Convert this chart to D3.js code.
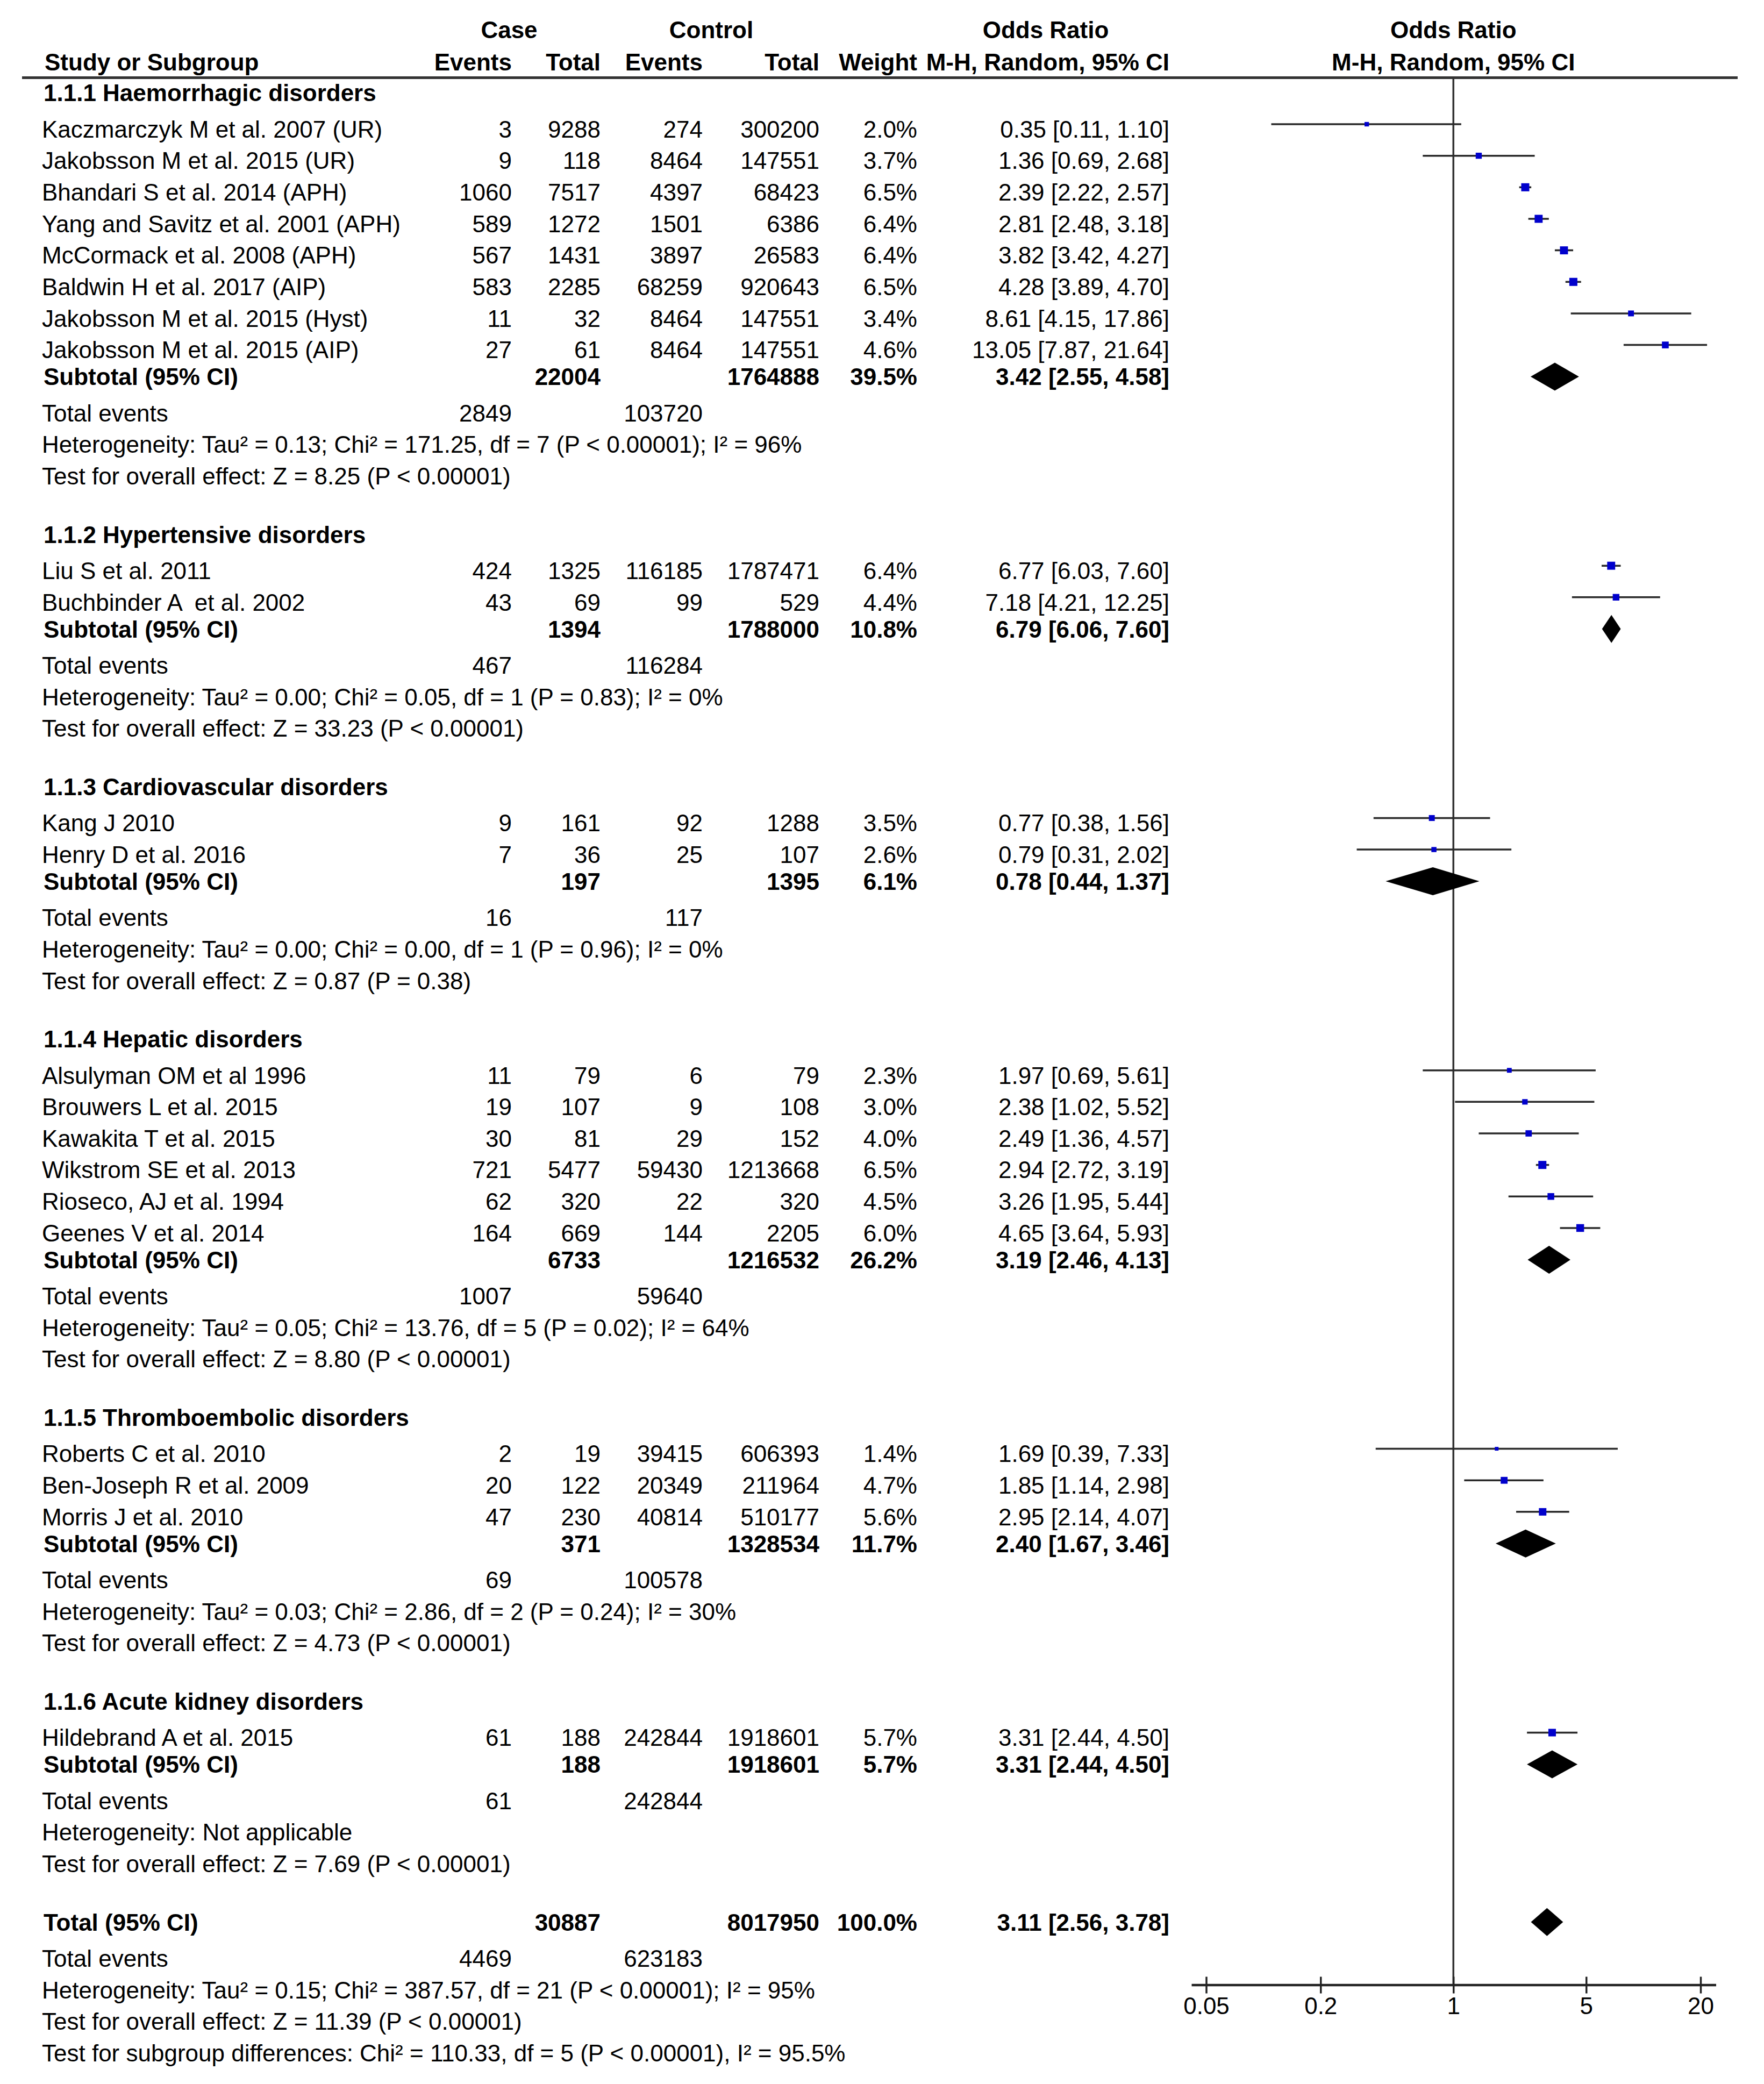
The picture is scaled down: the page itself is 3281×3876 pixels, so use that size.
<!DOCTYPE html>
<html>
<head>
<meta charset="utf-8">
<script src="https://cdn.jsdelivr.net/npm/d3@7"></script>
<style>
  html, body { margin: 0; padding: 0; background: #fff; }
  svg text { font-family: "Liberation Sans", Arial, sans-serif; white-space: pre; }
</style>
</head>
<body>
<svg id="chart"></svg>
<script>
// ---- data ----
const groupNames = [
  "1.1.1 Haemorrhagic disorders",
  "1.1.2 Hypertensive disorders",
  "1.1.3 Cardiovascular disorders",
  "1.1.4 Hepatic disorders",
  "1.1.5 Thromboembolic disorders",
  "1.1.6 Acute kidney disorders"
];

const studyNames = [
  "Kaczmarczyk M et al. 2007 (UR)",
  "Jakobsson M et al. 2015 (UR)",
  "Bhandari S et al. 2014 (APH)",
  "Yang and Savitz et al. 2001 (APH)",
  "McCormack et al. 2008 (APH)",
  "Baldwin H et al. 2017 (AIP)",
  "Jakobsson M et al. 2015 (Hyst)",
  "Jakobsson M et al. 2015 (AIP)",
  "Liu S et al. 2011",
  "Buchbinder A  et al. 2002",
  "Kang J 2010",
  "Henry D et al. 2016",
  "Alsulyman OM et al 1996",
  "Brouwers L et al. 2015",
  "Kawakita T et al. 2015",
  "Wikstrom SE et al. 2013",
  "Rioseco, AJ et al. 1994",
  "Geenes V et al. 2014",
  "Roberts C et al. 2010",
  "Ben-Joseph R et al. 2009",
  "Morris J et al. 2010",
  "Hildebrand A et al. 2015"
];
const studyGroup = [0, 0, 0, 0, 0, 0, 0, 0, 1, 1, 2, 2, 3, 3, 3, 3, 3, 3, 4, 4, 4, 5];
const caseEvents = [3, 9, 1060, 589, 567, 583, 11, 27, 424, 43, 9, 7, 11, 19, 30, 721, 62, 164, 2, 20, 47, 61];
const caseTotals = [9288, 118, 7517, 1272, 1431, 2285, 32, 61, 1325, 69, 161, 36, 79, 107, 81, 5477, 320, 669, 19, 122, 230, 188];
const ctrlEvents = [274, 8464, 4397, 1501, 3897, 68259, 8464, 8464, 116185, 99, 92, 25, 6, 9, 29, 59430, 22, 144, 39415, 20349, 40814, 242844];
const ctrlTotals = [300200, 147551, 68423, 6386, 26583, 920643, 147551, 147551, 1787471, 529, 1288, 107, 79, 108, 152, 1213668, 320, 2205, 606393, 211964, 510177, 1918601];
const weights = [2.0, 3.7, 6.5, 6.4, 6.4, 6.5, 3.4, 4.6, 6.4, 4.4, 3.5, 2.6, 2.3, 3.0, 4.0, 6.5, 4.5, 6.0, 1.4, 4.7, 5.6, 5.7];
const oddsRatio = [0.35, 1.36, 2.39, 2.81, 3.82, 4.28, 8.61, 13.05, 6.77, 7.18, 0.77, 0.79, 1.97, 2.38, 2.49, 2.94, 3.26, 4.65, 1.69, 1.85, 2.95, 3.31];
const ciLow = [0.11, 0.69, 2.22, 2.48, 3.42, 3.89, 4.15, 7.87, 6.03, 4.21, 0.38, 0.31, 0.69, 1.02, 1.36, 2.72, 1.95, 3.64, 0.39, 1.14, 2.14, 2.44];
const ciHigh = [1.10, 2.68, 2.57, 3.18, 4.27, 4.70, 17.86, 21.64, 7.60, 12.25, 1.56, 2.02, 5.61, 5.52, 4.57, 3.19, 5.44, 5.93, 7.33, 2.98, 4.07, 4.50];

// subgroup summaries
const subCaseTotals = [22004, 1394, 197, 6733, 371, 188];
const subCtrlTotals = [1764888, 1788000, 1395, 1216532, 1328534, 1918601];
const subWeights = [39.5, 10.8, 6.1, 26.2, 11.7, 5.7];
const subOdds = [3.42, 6.79, 0.78, 3.19, 2.40, 3.31];
const subLow = [2.55, 6.06, 0.44, 2.46, 1.67, 2.44];
const subHigh = [4.58, 7.60, 1.37, 4.13, 3.46, 4.50];
const subCaseEvents = [2849, 467, 16, 1007, 69, 61];
const subCtrlEvents = [103720, 116284, 117, 59640, 100578, 242844];
const subHeterogeneity = [
  "Heterogeneity: Tau² = 0.13; Chi² = 171.25, df = 7 (P < 0.00001); I² = 96%",
  "Heterogeneity: Tau² = 0.00; Chi² = 0.05, df = 1 (P = 0.83); I² = 0%",
  "Heterogeneity: Tau² = 0.00; Chi² = 0.00, df = 1 (P = 0.96); I² = 0%",
  "Heterogeneity: Tau² = 0.05; Chi² = 13.76, df = 5 (P = 0.02); I² = 64%",
  "Heterogeneity: Tau² = 0.03; Chi² = 2.86, df = 2 (P = 0.24); I² = 30%",
  "Heterogeneity: Not applicable"
];
const subOverallEffect = [
  "Test for overall effect: Z = 8.25 (P < 0.00001)",
  "Test for overall effect: Z = 33.23 (P < 0.00001)",
  "Test for overall effect: Z = 0.87 (P = 0.38)",
  "Test for overall effect: Z = 8.80 (P < 0.00001)",
  "Test for overall effect: Z = 4.73 (P < 0.00001)",
  "Test for overall effect: Z = 7.69 (P < 0.00001)"
];

// overall
const totalCounts = [30887, 8017950];       // case total, control total
const totalEvents = [4469, 623183];         // case events, control events
const totalWeight = 100.0;
const totalEstimate = [3.11, 2.56, 3.78];   // OR, low, high
const totalNotes = [
  "Heterogeneity: Tau² = 0.15; Chi² = 387.57, df = 21 (P < 0.00001); I² = 95%",
  "Test for overall effect: Z = 11.39 (P < 0.00001)",
  "Test for subgroup differences: Chi² = 110.33, df = 5 (P < 0.00001), I² = 95.5%"
];

const axisTicks = [0.05, 0.2, 1, 5, 20];

// ---- layout ----
const width = 3281, height = 3876;
const fontSize = 44;
const boldShift = -8.7;     // bold / summary rows sit a little higher
const markShift = -9;       // plot marks sit above the text centre

const col = {
  name: 78, nameBold: 81, head: 83,
  caseEv: 952, caseTot: 1117, ctrlEv: 1307, ctrlTot: 1524,
  weight: 1706, or: 2175
};

const svg = d3.select("#chart")
  .attr("width", width)
  .attr("height", height)
  .attr("xmlns", "http://www.w3.org/2000/svg");

svg.append("rect").attr("width", width).attr("height", height).attr("fill", "#fff");

const y = d3.scaleLinear().domain([0, 61]).range([240, 3818]);
const x = d3.scaleLog().domain([0.05, 20]).range([2243.5, 3163]);
const sq = d3.scaleSqrt().domain([0, 6.5]).range([0, 15]);

const f2 = d3.format(".2f");
const orText = (o, l, h) => `${f2(o)} [${f2(l)}, ${f2(h)}]`;
const wText = (w) => `${w.toFixed(1)}%`;

const txt = (xx, yc, s, anchor, bold) => {
  svg.append("text")
    .attr("x", xx)
    .attr("y", yc + 0.36 * fontSize)
    .attr("xml:space", "preserve")
    .attr("text-anchor", anchor || "start")
    .attr("font-size", fontSize)
    .attr("font-weight", bold ? "bold" : "normal")
    .attr("fill", "#000")
    .text(s);
};

// build row list
const rows = [];
let r = -1;
groupNames.forEach((g, gi) => {
  rows.push({ type: "group", idx: r++, g: gi });
  studyNames.forEach((s, si) => {
    if (studyGroup[si] === gi) rows.push({ type: "study", idx: r++, i: si });
  });
  rows.push({ type: "subtotal", idx: r++, g: gi });
  rows.push({ type: "events", idx: r++, ce: subCaseEvents[gi], cc: subCtrlEvents[gi] });
  rows.push({ type: "note", idx: r++, label: subHeterogeneity[gi] });
  rows.push({ type: "note", idx: r++, label: subOverallEffect[gi] });
  r++; // blank line
});
rows.push({ type: "total", idx: r++ });
rows.push({ type: "events", idx: r++, ce: totalEvents[0], cc: totalEvents[1] });
totalNotes.forEach((n) => rows.push({ type: "note", idx: r++, label: n }));

// ---- header ----
const h1 = 55, h2 = 115;
txt(947, h1, "Case", "middle", true);
txt(1323, h1, "Control", "middle", true);
txt(1945, h1, "Odds Ratio", "middle", true);
txt(x(1), h1, "Odds Ratio", "middle", true);
txt(col.head, h2, "Study or Subgroup", "start", true);
txt(col.caseEv, h2, "Events", "end", true);
txt(col.caseTot, h2, "Total", "end", true);
txt(col.ctrlEv, h2, "Events", "end", true);
txt(col.ctrlTot, h2, "Total", "end", true);
txt(col.weight, h2, "Weight", "end", true);
txt(col.or, h2, "M-H, Random, 95% CI", "end", true);
txt(x(1), h2, "M-H, Random, 95% CI", "middle", true);

svg.append("line")
  .attr("x1", 41).attr("x2", 3232)
  .attr("y1", 144.5).attr("y2", 144.5)
  .attr("stroke", "#333").attr("stroke-width", 5);

// ---- plot frame: line of no effect and axis ----
const axisY = 3692;
svg.append("line")
  .attr("x1", x(1)).attr("x2", x(1))
  .attr("y1", 144.5).attr("y2", axisY)
  .attr("stroke", "#333").attr("stroke-width", 3.5);

const axisG = svg.append("g")
  .attr("transform", `translate(0,${axisY})`)
  .call(d3.axisBottom(x).tickValues(axisTicks).tickSize(0).tickPadding(0)
    .tickFormat((d) => String(d)));
axisG.select(".domain").remove();
axisG.selectAll(".tick line")
  .attr("y1", -15.5).attr("y2", 15.5)
  .attr("stroke", "#222").attr("stroke-width", 3.5);
axisG.selectAll(".tick text")
  .attr("y", 38 + 0.36 * fontSize)
  .attr("dy", null)
  .attr("font-size", fontSize)
  .attr("font-family", '"Liberation Sans", Arial, sans-serif')
  .attr("fill", "#000");
axisG.append("line")
  .attr("x1", x(axisTicks[0]) - 27).attr("x2", x(axisTicks[axisTicks.length - 1]) + 29)
  .attr("y1", 0).attr("y2", 0)
  .attr("stroke", "#222").attr("stroke-width", 4.5);

// ---- rows ----
const diamond = (o, l, h, yc) => {
  const hh = 26;
  svg.append("path")
    .attr("d", `M${x(l)},${yc}L${x(o)},${yc - hh}L${x(h)},${yc}L${x(o)},${yc + hh}Z`)
    .attr("fill", "#000");
};

rows.forEach((row) => {
  const yc = y(row.idx);
  if (row.type === "group") {
    txt(col.nameBold, yc + boldShift, groupNames[row.g], "start", true);
  } else if (row.type === "study") {
    const i = row.i;
    txt(col.name, yc, studyNames[i]);
    txt(col.caseEv, yc, String(caseEvents[i]), "end");
    txt(col.caseTot, yc, String(caseTotals[i]), "end");
    txt(col.ctrlEv, yc, String(ctrlEvents[i]), "end");
    txt(col.ctrlTot, yc, String(ctrlTotals[i]), "end");
    txt(col.weight, yc, wText(weights[i]), "end");
    txt(col.or, yc, orText(oddsRatio[i], ciLow[i], ciHigh[i]), "end");
    const ym = yc + markShift;
    svg.append("line")
      .attr("x1", x(ciLow[i])).attr("x2", x(ciHigh[i]))
      .attr("y1", ym).attr("y2", ym)
      .attr("stroke", "#2a2a2a").attr("stroke-width", 3.5);
    const s = sq(weights[i]);
    svg.append("rect")
      .attr("x", x(oddsRatio[i]) - s / 2).attr("y", ym - s / 2)
      .attr("width", s).attr("height", s)
      .attr("fill", "#0000cc");
  } else if (row.type === "subtotal") {
    const g = row.g, yb = yc + boldShift;
    txt(col.nameBold, yb, "Subtotal (95% CI)", "start", true);
    txt(col.caseTot, yb, String(subCaseTotals[g]), "end", true);
    txt(col.ctrlTot, yb, String(subCtrlTotals[g]), "end", true);
    txt(col.weight, yb, wText(subWeights[g]), "end", true);
    txt(col.or, yb, orText(subOdds[g], subLow[g], subHigh[g]), "end", true);
    diamond(subOdds[g], subLow[g], subHigh[g], yb);
  } else if (row.type === "events") {
    txt(col.name, yc, "Total events");
    txt(col.caseEv, yc, String(row.ce), "end");
    txt(col.ctrlEv, yc, String(row.cc), "end");
  } else if (row.type === "note") {
    txt(col.name, yc, row.label);
  } else if (row.type === "total") {
    const yb = yc + boldShift;
    txt(col.nameBold, yb, "Total (95% CI)", "start", true);
    txt(col.caseTot, yb, String(totalCounts[0]), "end", true);
    txt(col.ctrlTot, yb, String(totalCounts[1]), "end", true);
    txt(col.weight, yb, wText(totalWeight), "end", true);
    txt(col.or, yb, orText(totalEstimate[0], totalEstimate[1], totalEstimate[2]), "end", true);
    diamond(totalEstimate[0], totalEstimate[1], totalEstimate[2], yb);
  }
});
</script>
</body>
</html>
